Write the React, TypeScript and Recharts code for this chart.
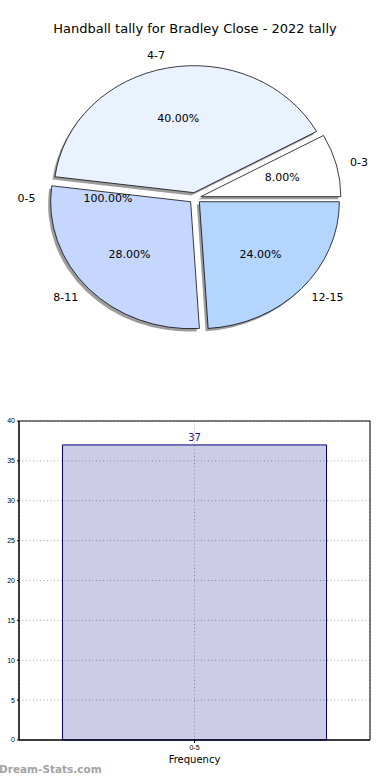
import React from 'react';
import {
  PieChart,
  Pie,
  Sector,
  BarChart,
  Bar,
  XAxis,
  YAxis,
  CartesianGrid,
  LabelList,
  ReferenceArea
} from 'recharts';

// pie data
const sliceNames = ['0-3', '4-7', '8-11', '12-15'];
const sliceValues = [8, 40, 28, 24];
const sliceColors = ['#ffffff', '#eaf1ff', '#c5d7ff', '#b3d5ff'];

// the overlaid single-slice pie
const totalNames = ['0-5'];
const totalValues = [100];

// bar data
const barCategories = ['0-5'];
const barValues = [37];
const yTicks = [0, 5, 10, 15, 20, 25, 30, 35, 40];

const pieData = sliceNames.map((name, i) => ({ name, value: sliceValues[i], fill: sliceColors[i] }));
const totalData = totalNames.map((name, i) => ({ name, value: totalValues[i] }));
const barData = barCategories.map((name, i) => ({ name, value: barValues[i] }));

const RAD = Math.PI / 180;
const EXPLODE = 6;
const SQUISH = 0.907;
const FONT = '"DejaVu Sans", sans-serif';

const ExplodedSlice = (props: any) => {
  const { cx, cy, midAngle, innerRadius, outerRadius, startAngle, endAngle, fill } = props;
  const dx = Math.cos(-midAngle * RAD) * EXPLODE;
  const dy = Math.sin(-midAngle * RAD) * EXPLODE;
  return (
    <g>
      <Sector
        cx={cx + dx - 2.5}
        cy={cy + dy + 3}
        innerRadius={innerRadius}
        outerRadius={outerRadius}
        startAngle={startAngle}
        endAngle={endAngle}
        fill="#4a4a4a"
        fillOpacity={0.55}
      />
      <Sector
        cx={cx + dx}
        cy={cy + dy}
        innerRadius={innerRadius}
        outerRadius={outerRadius}
        startAngle={startAngle}
        endAngle={endAngle}
        fill={fill}
        stroke="#000"
        strokeWidth={0.8}
      />
    </g>
  );
};

const makeLabel = (explode: number) => (props: any) => {
  const { cx, cy, midAngle, outerRadius, percent, name } = props;
  const cos = Math.cos(-midAngle * RAD);
  const sin = Math.sin(-midAngle * RAD);
  const ox = cx + cos * explode;
  const oy = cy + sin * explode;
  const nx = ox + cos * outerRadius * 1.1;
  const ny = oy + sin * outerRadius * 1.1;
  const px = ox + cos * outerRadius * 0.6;
  const py = oy + sin * outerRadius * 0.6;
  return (
    <g>
      <text x={nx} y={ny} textAnchor={cos < 0 ? 'end' : 'start'} dominantBaseline="central"
        fontSize={11} fontFamily={FONT} fill="#000">{name}</text>
      <text x={px} y={py} textAnchor="middle" dominantBaseline="central"
        fontSize={11} fontFamily={FONT} fill="#000">{`${(percent * 100).toFixed(2)}%`}</text>
    </g>
  );
};

export default function App() {
  return (
    <div style={{ position: 'absolute', left: 0, top: 0, width: 390, height: 780, background: '#fff', overflow: 'hidden' }}>
      <div style={{ position: 'absolute', top: 21, left: 0, width: 390, textAlign: 'center', fontFamily: FONT, fontSize: 13 }}>
        Handball tally for Bradley Close - 2022 tally
      </div>

      <div style={{ position: 'absolute', top: 0, left: 0, width: 390, height: 380, transform: `scaleY(${SQUISH})`, transformOrigin: 'top left' }}>
        <PieChart width={390} height={380} margin={{ top: 0, right: 0, bottom: 0, left: 0 }}>
          <Pie
            data={pieData}
            dataKey="value"
            nameKey="name"
            cx={195}
            cy={198 / SQUISH}
            outerRadius={140}
            startAngle={0}
            endAngle={360}
            shape={ExplodedSlice}
            label={makeLabel(EXPLODE)}
            labelLine={false}
            isAnimationActive={false}
          />
          <Pie
            data={totalData}
            dataKey="value"
            nameKey="name"
            cx={195}
            cy={198 / SQUISH}
            outerRadius={145}
            startAngle={0}
            endAngle={360}
            fill="none"
            stroke="none"
            label={makeLabel(0)}
            labelLine={false}
            isAnimationActive={false}
          />
        </PieChart>
      </div>

      <div style={{ position: 'absolute', top: 410, left: 0 }}>
        <BarChart width={390} height={370} data={barData} barCategoryGap="12.4%"
          margin={{ top: 11, right: 20, left: 0, bottom: 10 }}>
          <CartesianGrid stroke="#aaa" strokeDasharray="1 2.5" />
          <XAxis dataKey="name" height={30} tickSize={3} stroke="#000"
            tick={{ fontSize: 7, fontFamily: '"Liberation Sans", sans-serif', fill: '#000' }}
            label={{ value: 'Frequency', position: 'insideBottom', offset: 7, fontSize: 10, fontFamily: FONT, fill: '#000' }} />
          <YAxis width={19} domain={[0, 40]} ticks={yTicks} tickSize={2} stroke="#000"
            tick={{ fontSize: 7, fontFamily: '"Liberation Sans", sans-serif', fill: '#000' }} />
          <Bar dataKey="value" fill="#000080" fillOpacity={0.2} stroke="#000080" strokeWidth={1} isAnimationActive={false}>
            <LabelList dataKey="value" position="top" offset={4} fill="#1a1a99" fontSize={10} fontFamily={FONT} />
          </Bar>
          <ReferenceArea y1={0} y2={40} fill="none" stroke="#000" strokeWidth={1} ifOverflow="visible" />
        </BarChart>
      </div>

      <div style={{ position: 'absolute', top: 763, left: -1, fontFamily: FONT, fontWeight: 'bold', fontSize: 10.5, color: '#a3a3a3' }}>
        Dream-Stats.com
      </div>
    </div>
  );
}
